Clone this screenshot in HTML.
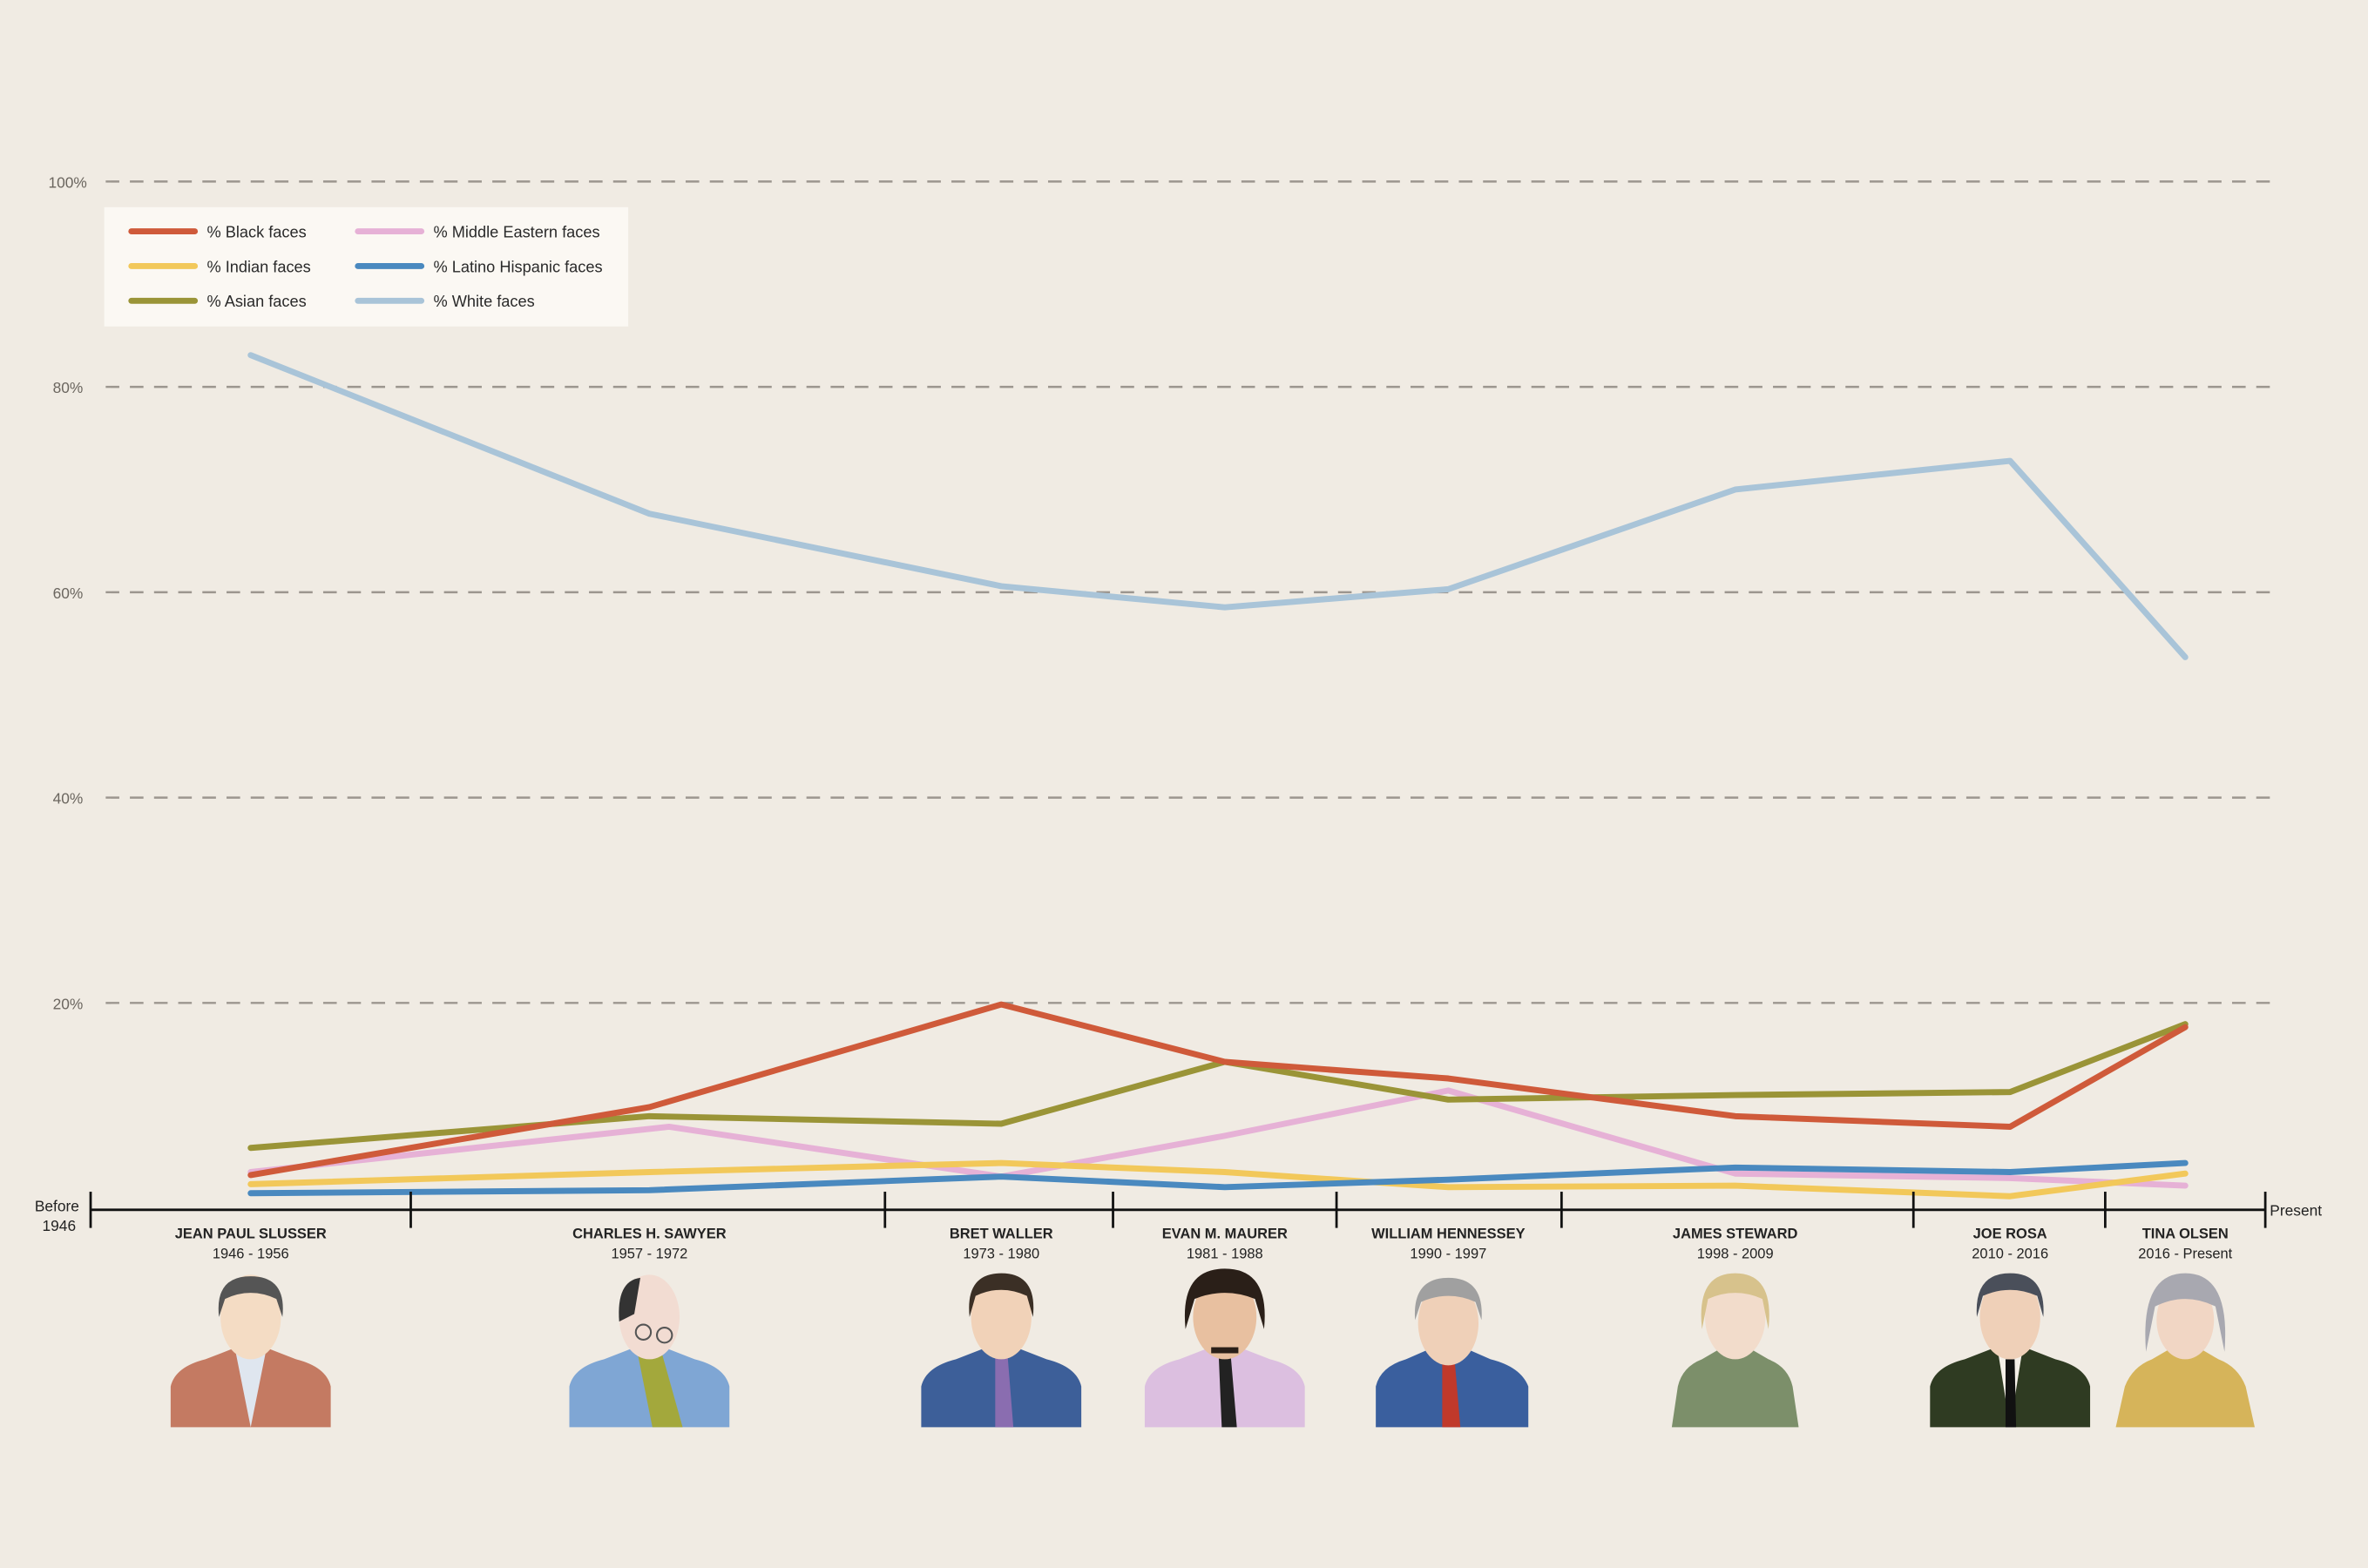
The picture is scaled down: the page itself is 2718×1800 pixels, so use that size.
<!DOCTYPE html>
<html><head><meta charset="utf-8"><style>
html,body{margin:0;padding:0;background:#f0ebe3;}
svg{display:block;}
text{font-family:"Liberation Sans",sans-serif;}
</style></head><body>
<svg width="2718" height="1800" viewBox="0 0 1568 1038" xmlns="http://www.w3.org/2000/svg">
<rect width="1568" height="1038" fill="#f0ebe3"/>
<g stroke="#9c968f" stroke-width="1.4" stroke-dasharray="9,7">
<line x1="70" y1="120" x2="1510" y2="120"/>
<line x1="70" y1="256" x2="1510" y2="256"/>
<line x1="70" y1="392" x2="1510" y2="392"/>
<line x1="70" y1="528" x2="1510" y2="528"/>
<line x1="70" y1="664" x2="1510" y2="664"/>
</g>
<g font-size="10" fill="#6b665f">
<text x="32" y="124">100%</text>
<text x="35" y="260">80%</text>
<text x="35" y="396">60%</text>
<text x="35" y="532">40%</text>
<text x="35" y="668">20%</text>
</g>
<rect x="69" y="137" width="347" height="79" fill="#fbf8f3"/>
<g stroke-width="4" stroke-linecap="round">
<line x1="87" y1="153" x2="129" y2="153" stroke="#cf5a3a"/>
<line x1="87" y1="176" x2="129" y2="176" stroke="#f2c85a"/>
<line x1="87" y1="199" x2="129" y2="199" stroke="#9a9437"/>
<line x1="237" y1="153" x2="279" y2="153" stroke="#e6b1d6"/>
<line x1="237" y1="176" x2="279" y2="176" stroke="#4a89bf"/>
<line x1="237" y1="199" x2="279" y2="199" stroke="#a9c4d8"/>
</g>
<g font-size="10.5" fill="#2a2a2a">
<text x="137" y="157">% Black faces</text>
<text x="137" y="180">% Indian faces</text>
<text x="137" y="203">% Asian faces</text>
<text x="287" y="157">% Middle Eastern faces</text>
<text x="287" y="180">% Latino Hispanic faces</text>
<text x="287" y="203">% White faces</text>
</g>
<g fill="none" stroke-width="4" stroke-linejoin="round" stroke-linecap="round">
<polyline stroke="#a9c4d8" points="166,235 430,340 663,388 811,402 959,390 1149,324 1331,305 1447,435"/>
<polyline stroke="#e6b1d6" points="166,776 443,746 663,779 811,752 959,722 1149,777 1331,780 1447,785"/>
<polyline stroke="#f2c85a" points="166,784 430,776 663,770 811,776 959,786 1149,785 1331,792 1447,777"/>
<polyline stroke="#4a89bf" points="166,790 430,788 663,779 811,786 959,781 1149,773 1331,776 1447,770"/>
<polyline stroke="#9a9437" points="166,760 430,739 663,744 811,703 959,728 1149,725 1331,723 1447,678"/>
<polyline stroke="#cf5a3a" points="166,778 430,733 663,665 811,703 959,714 1149,739 1331,746 1447,680"/>
</g>
<g stroke="#111" stroke-width="1.6">
<line x1="60" y1="801" x2="1500" y2="801"/>
<line x1="60" y1="789" x2="60" y2="813"/>
<line x1="272" y1="789" x2="272" y2="813"/>
<line x1="586" y1="789" x2="586" y2="813"/>
<line x1="737" y1="789" x2="737" y2="813"/>
<line x1="885" y1="789" x2="885" y2="813"/>
<line x1="1034" y1="789" x2="1034" y2="813"/>
<line x1="1267" y1="789" x2="1267" y2="813"/>
<line x1="1394" y1="789" x2="1394" y2="813"/>
<line x1="1500" y1="789" x2="1500" y2="813"/>
</g>
<g font-size="10" fill="#222">
<text x="23" y="802">Before</text>
<text x="28" y="815">1946</text>
<text x="1503" y="805">Present</text>
</g>
<g font-size="9.5" fill="#222" text-anchor="middle">
<g font-weight="bold">
<text x="166" y="820">JEAN PAUL SLUSSER</text>
<text x="430" y="820">CHARLES H. SAWYER</text>
<text x="663" y="820">BRET WALLER</text>
<text x="811" y="820">EVAN M. MAURER</text>
<text x="959" y="820">WILLIAM HENNESSEY</text>
<text x="1149" y="820">JAMES STEWARD</text>
<text x="1331" y="820">JOE ROSA</text>
<text x="1447" y="820">TINA OLSEN</text>
</g>
<text x="166" y="833">1946 - 1956</text>
<text x="430" y="833">1957 - 1972</text>
<text x="663" y="833">1973 - 1980</text>
<text x="811" y="833">1981 - 1988</text>
<text x="959" y="833">1990 - 1997</text>
<text x="1149" y="833">1998 - 2009</text>
<text x="1331" y="833">2010 - 2016</text>
<text x="1447" y="833">2016 - Present</text>
</g>
<defs>
<g id="p">
<path d="M-53,945 L-53,918 Q-50,905 -30,900 L-12,893 L12,893 L30,900 Q50,905 53,918 L53,945 Z"/>
</g>
</defs>
<g>
<!-- portraits -->
<g transform="translate(166,0)"><path d="M-53,945 L-53,918 Q-50,905 -30,900 L-12,893 L12,893 L30,900 Q50,905 53,918 L53,945Z" fill="#c47a62"/><path d="M-10,895 L0,945 L10,895Z" fill="#dfe6ef"/><ellipse cx="0" cy="872" rx="20" ry="28" fill="#f4dcc4"/><path d="M-21,872 Q-24,845 0,845 Q24,845 21,872 L17,860 Q0,852 -17,860Z" fill="#555"/></g>
<g transform="translate(430,0)"><path d="M-53,945 L-53,918 Q-50,905 -30,900 L-12,893 L12,893 L30,900 Q50,905 53,918 L53,945Z" fill="#7fa6d4"/><path d="M-8,895 L2,945 L22,945 L8,895Z" fill="#a3a83c"/><ellipse cx="0" cy="872" rx="20" ry="28" fill="#f2dcd2"/><path d="M-20,875 Q-22,848 -6,846 L-10,870Z" fill="#333"/><circle cx="-4" cy="882" r="5" fill="none" stroke="#555" stroke-width="1.2"/><circle cx="10" cy="884" r="5" fill="none" stroke="#555" stroke-width="1.2"/></g>
<g transform="translate(663,0)"><path d="M-53,945 L-53,918 Q-50,905 -30,900 L-12,893 L12,893 L30,900 Q50,905 53,918 L53,945Z" fill="#3d5f99"/><path d="M-4,895 L-4,945 L8,945 L4,895Z" fill="#8a6db0"/><ellipse cx="0" cy="872" rx="20" ry="28" fill="#f1d2b8"/><path d="M-21,872 Q-24,843 0,843 Q24,843 21,872 L17,858 Q0,850 -17,858Z" fill="#3b2f25"/></g>
<g transform="translate(811,0)"><path d="M-53,945 L-53,918 Q-50,905 -30,900 L-12,893 L12,893 L30,900 Q50,905 53,918 L53,945Z" fill="#dcbfe0"/><path d="M-4,898 L-2,945 L8,945 L4,898Z" fill="#222"/><ellipse cx="0" cy="872" rx="21" ry="28" fill="#e8c0a0"/><path d="M-26,880 Q-30,840 0,840 Q30,840 26,880 L20,860 Q0,852 -20,860Z" fill="#2a1f18"/><rect x="-9" y="892" width="18" height="4" fill="#2a1f18"/></g>
<g transform="translate(959,0)"><path d="M-48,945 L-48,918 Q-45,905 -28,900 L-12,893 L12,893 L28,900 Q48,905 53,918 L53,945Z" fill="#3a5f9e"/><path d="M-4,898 L-4,945 L8,945 L4,898Z" fill="#c0392b"/><ellipse cx="0" cy="876" rx="20" ry="28" fill="#efd0b8"/><path d="M-22,874 Q-24,846 0,846 Q24,846 22,874 L18,862 Q0,854 -18,862Z" fill="#a0a0a0"/></g>
<g transform="translate(1149,0)"><path d="M-42,945 L-38,918 Q-35,905 -22,900 L-10,893 L10,893 L22,900 Q35,905 38,918 L42,945Z" fill="#7c8f6a"/><ellipse cx="0" cy="872" rx="20" ry="28" fill="#f2dccb"/><path d="M-22,880 Q-26,843 0,843 Q26,843 22,880 L18,860 Q0,852 -18,860Z" fill="#d7c28c"/></g>
<g transform="translate(1331,0)"><path d="M-53,945 L-53,918 Q-50,905 -30,900 L-12,893 L12,893 L30,900 Q50,905 53,918 L53,945Z" fill="#2f3b22"/><path d="M-8,895 L0,945 L8,895Z" fill="#f5f0e8"/><path d="M-3,900 L-3,945 L4,945 L3,900Z" fill="#111"/><ellipse cx="0" cy="872" rx="20" ry="28" fill="#efd0b8"/><path d="M-22,872 Q-24,843 0,843 Q24,843 22,872 L18,858 Q0,850 -18,858Z" fill="#4a4f5a"/></g>
<g transform="translate(1447,0)"><path d="M-46,945 L-40,918 Q-35,905 -22,900 L-10,893 L10,893 L22,900 Q35,905 40,918 L46,945Z" fill="#d6b45a"/><ellipse cx="0" cy="874" rx="19" ry="26" fill="#f1d6c4"/><path d="M-26,895 Q-30,843 0,843 Q30,843 26,895 L20,865 Q0,855 -20,865Z" fill="#a8a8b0"/></g>
</g>
</svg>
</body></html>
